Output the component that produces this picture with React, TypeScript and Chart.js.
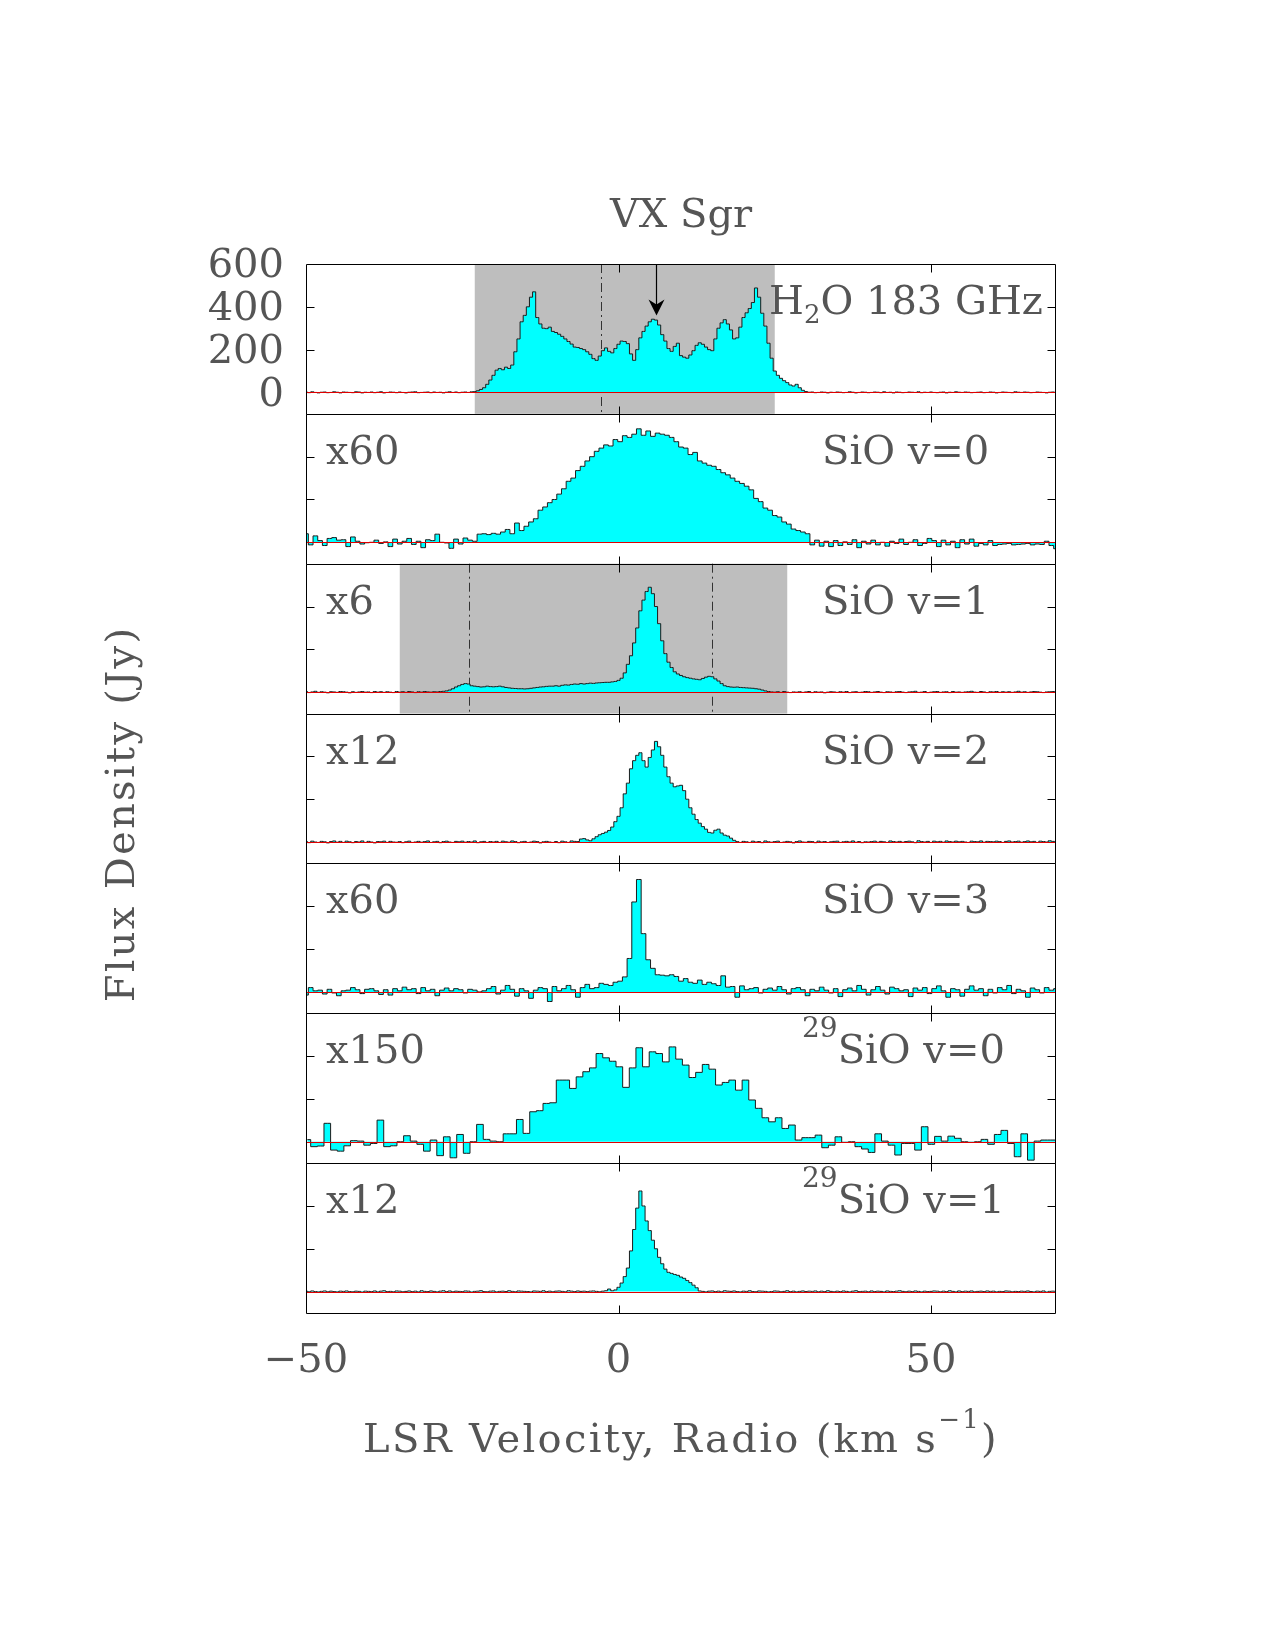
import React, { useEffect, useRef } from 'react';
import { Chart, registerables } from 'chart.js';

Chart.register(...registerables);

// ---------------- data ----------------
const xTickValues = [-50, 0, 50];
const yTickValues = [0, 200, 400, 600];
const yInnerTickValues = [200, 400];

const chartTitle = 'VX Sgr';
const yTitle = 'Flux Density (Jy)';
const xTitleMain = 'LSR Velocity, Radio (km s';
const xTitleSup = '\u22121';
const xTitleEnd = ')';

// H2O 183 GHz (Jy), channels of 0.5 km/s starting at -50
const h2oStart = -50;
const h2oStep = 0.5;
const h2oFlux = [
  2, -1, 3, 0, -2, 1, 2, -1, 0, 3,
  1, -2, 2, 1, 0, -1, 3, 2, -2, 1,
  0, 2, -1, 1, 3, -2, 0, 2, 1, -1,
  2, 0, -2, 1, 2, 3, -1, 0, 1, 2,
  -1, 2, 0, 1, -2, 1, 3, 0, 2, -1,
  1, 2, 0, 3, 4, 8, 14, 22, 38, 58,
  80, 104, 112, 106, 118, 112, 128, 190, 250, 330,
  360, 400, 445, 470, 350, 320, 300, 298, 305, 285,
  280, 272, 262, 250, 238, 226, 212, 210, 205, 200,
  190, 178, 158, 150, 170, 195, 208, 192, 185, 205,
  225, 240, 238, 228, 180, 150, 200, 255, 285, 310,
  330, 342, 338, 315, 270, 240, 205, 192, 215, 230,
  172, 165, 160, 175, 195, 220, 232, 225, 212, 200,
  195, 250, 300, 325, 340, 320, 292, 250, 255, 305,
  350, 372, 392, 420, 488, 445, 370, 310, 230, 160,
  100, 80, 66, 55, 46, 35, 30, 38, 22, 10,
  4, 1, 2, -1, 0, 2, 1, -2, 1, 0,
  2, 1, -1, 0, 3, 1, -2, 0, 2, 1,
  -1, 0, 2, 1, -1, 3, 0, 1, -2, 2,
  1, -1, 0, 2, 1, 0, 3, -1, 1, 0,
  2, 0, -1, 1, 2, -2, 1, 0, 3, 1,
  0, 2, 1, -1, 0, 1, 2, -1, 0, 2,
  1, -2, 0, 2, 1, 0, -1, 3, 1, 0,
  2, 1, -1, 0, 2, 1, 0, -2, 1, 2,
  0,
];

// SiO v=0 (x60), channels of 0.75 km/s starting at -50
const sio0Start = -50;
const sio0Step = 0.75;
const sio0Flux = [
  40, -12, 30, 8, -15, 18, 22, 10,
  12, -20, 25, 5, -8, -2, 0, 10,
  -5, 2, -20, 15, -8, 5, 18, -10,
  5, -25, 12, 8, 38, 0, -3, -28,
  15, -8, 20, 10, 5, 38, 40, 36,
  42, 38, 48, 60, 40, 90, 55, 75,
  95, 110, 150, 165, 185, 200, 225, 250,
  285, 300, 335, 355, 380, 400, 425, 440,
  455, 450, 480, 470, 498, 490, 505, 530,
  500, 520, 495, 510, 505, 500, 490, 470,
  445, 440, 410, 420, 380, 370, 360, 355,
  340, 325, 315, 300, 285, 275, 262, 245,
  205, 190, 160, 150, 125, 118, 95, 85,
  62, 55, 48, 40, -12, 10, -18, 5,
  -20, 8, -15, 2, -10, 12, -25, 5,
  -8, 10, -12, 0, -18, 5, -5, 15,
  -10, 0, 12, -15, -5, 18, 8, -20,
  10, -12, 5, -25, 12, -8, 15, -18,
  -5, -12, 8, -15, -10, -8, -5, -12,
  -10, -8, -5, -12, -8, -10, 5, -15,
  -30,
];

// SiO v=1 (x6), channels of 0.5 km/s starting at -50
const sio1Start = -50;
const sio1Step = 0.5;
const sio1Flux = [
  3, -2, 1, 4, -1, 2, 0, -3, 2, 1,
  -1, 3, 2, 0, -3, 2, -1, 1, 3, 0,
  1, -2, 3, 0, 2, -1, 2, 0, -2, 3,
  0, 2, -1, 3, 1, -2, 2, 0, 3, 1,
  0, 2, 1, 3, 4, 6, 10, 16, 24, 30,
  36, 40, 38, 30, 28, 26, 24, 25, 28, 26,
  25, 26, 28, 25, 22, 20, 18, 17, 16, 16,
  15, 16, 18, 20, 22, 24, 25, 27, 28, 28,
  30, 28, 32, 34, 33, 36, 38, 37, 40, 38,
  40, 42, 41, 43, 44, 45, 46, 46, 48, 50,
  55, 65, 90, 130, 170, 230, 300, 380, 430, 470,
  490, 460, 400, 320, 240, 180, 140, 115, 95, 85,
  78, 72, 68, 65, 62, 60, 58, 64, 70, 74,
  72, 62, 52, 40, 30, 26, 24, 23, 24, 22,
  21, 20, 19, 18, 16, 14, 10, 6, 3, 1,
  0, 2, -1, 3, 0, -2, 1, 0, 2, -1,
  1, 3, -2, 2, 0, 1, -3, 0, 2, 1,
  -1, 2, 0, 3, -2, 1, 2, -1, 0, 3,
  2, -1, 1, 3, 0, -2, 2, 1, -1, 2,
  3, 0, -2, 1, 2, 4, -1, 0, 3, -2,
  0, 2, 3, -1, 1, 2, -2, 3, 0, 1,
  -1, 1, 2, 4, 0, -1, 3, 1, -2, 2,
  1, 3, -1, 2, 0, 2, -1, 1, 4, 0,
  2, -1, 1, 3, 2, 0, -2, 1, 2, 3,
  1,
];

// SiO v=2 (x12), channels of 0.5 km/s starting at -50
const sio2Start = -50;
const sio2Step = 0.5;
const sio2Flux = [
  2, -3, 4, 0, -2, 3, 1, -4, 2, 5,
  -1, 3, -2, 4, 1, -3, 2, 0, 5, -2,
  3, 0, -4, 2, 1, 4, -2, 3, 0, -1,
  2, -3, 1, 4, -2, 0, 3, -1, 2, 5,
  -2, 1, 3, -3, 2, 4, 0, -2, 3, 1,
  4, -1, 2, 0, 5, -3, 1, 3, -2, 2,
  0, 3, -2, 4, 1, -1, 5, 2, -3, 1,
  3, -2, 0, 4, 2, -4, 1, 3, 0, -2,
  2, -3, 4, 1, -2, 5, 3, 2, 14, 16,
  10, 6, 15, 25, 34, 40, 46, 54, 70, 95,
  120, 160, 225, 275, 342, 380, 405, 417, 380, 350,
  395, 430, 470, 445, 405, 350, 305, 275, 258, 262,
  265, 240, 200, 160, 130, 105, 88, 72, 60, 45,
  42, 55, 60, 42, 32, 28, 18, 8, 2, -2,
  3, 1, -2, 4, 0, 2, -3, 5, 1, -1,
  2, 4, -2, 0, 3, 1, -4, 2, 5, 0,
  -1, 3, 2, -3, 4, 0, 2, -2, 1, 3,
  4, -2, 1, 3, 0, 5, -1, 2, -3, 1,
  0, 2, 4, -1, 3, 1, -2, 5, 2, 0,
  3, -1, 2, 4, 1, -3, 6, 2, 0, 3,
  -2, 4, 1, 3, -1, 5, 2, 0, 4, 1,
  3, 0, -2, 4, 2, 1, 5, -1, 3, 2,
  1, 4, 2, -2, 3, 5, 0, 2, 4, -1,
  2, 5, 1, 3, -2, 4, 2, 0, 6, 3,
  2,
];

// SiO v=3 (x60), channels of 0.75 km/s starting at -50
const sio3Start = -50;
const sio3Step = 0.75;
const sio3Flux = [
  -15, 20, 5, 8, -10, 12, -5, -18,
  5, 8, 20, 10, -8, 12, 15, 5,
  -12, 10, -15, 15, 5, 22, 10, 15,
  -8, 20, 5, 12, -18, 8, 18, 5,
  15, 10, -5, 12, 8, 0, 5, 15,
  25, -10, 8, 30, 12, -20, 15, 5,
  -30, 8, 20, 15, -45, 25, 5, 15,
  30, 10, -25, 20, 35, 15, 20, 40,
  35, 30, 45, 50, 70, 156, 420, 525,
  272, 150, 110, 80, 78, 75, 80, 72,
  50, 62, 45, 40, 55, 35, 45, 38,
  30, 75, 22, 25, -25, 28, 10, 15,
  20, -5, 12, 18, 8, 25, 10, -10,
  15, 20, 10, -18, 12, 5, 22, 8,
  -5, 15, -22, 10, 18, 5, 30, 12,
  -15, 10, 25, 8, -10, 22, 15, 5,
  10, -22, 18, 8, 20, -8, 15, 28,
  5, -25, 15, 10, -20, 12, 28, 8,
  15, -18, 12, -5, 20, 10, 30, -8,
  12, 5, -25, 18, 10, -5, 20, 8,
  15,
];

// 29SiO v=0 (x150), channels of 1.062 km/s starting at -49.78
const si29v0Start = -49.78;
const si29v0Step = 1.062;
const si29v0Flux = [
  10, -23, -20, 86, -39, -44, -19, 5, 3, -16,
  -8, 101, -23, -19, 0, 28, 3, -12, -44, 8,
  -65, 23, -75, 34, -54, 0, 81, 11, 3, 0,
  37, 37, 104, 39, 140, 145, 179, 182, 288, 288,
  249, 303, 327, 345, 412, 392, 376, 350, 254, 345,
  439, 350, 420, 412, 373, 443, 386, 358, 300, 324,
  361, 339, 265, 277, 288, 241, 288, 195, 156, 112,
  93, 112, 62, 78, 8, 19, 19, 31, -28, -16,
  23, -3, 0, -23, -34, -50, 37, 3, -16, -62,
  -8, -8, -39, 70, -12, 25, 3, 26, 16, 0,
  -3, 0, 11, -12, 34, 53, -8, -70, 37, -86,
  3, 8, 8, 8,
];

// 29SiO v=1 (x12), channels of 0.5 km/s starting at -50
const si29v1Start = -50;
const si29v1Step = 0.5;
const si29v1Flux = [
  2, -1, 3, 0, -2, 1, 3, -1, 2, 0,
  -2, 2, 1, 3, 0, -1, 2, 1, -3, 2,
  1, 0, 3, -2, 2, 4, 0, 1, -1, 3,
  2, -1, 1, 3, 0, 2, -2, 4, 1, 0,
  3, 1, -2, 2, 4, 0, 3, -1, 2, 1,
  0, 3, 2, -3, 1, 2, 4, 0, -1, 2,
  3, -2, 1, 2, 0, 4, 1, -1, 3, 2,
  1, 0, -2, 3, 2, 1, 4, 0, 2, -1,
  2, 3, 1, -1, 4, 2, 0, 3, 1, 2,
  0, 2, 3, 1, -1, 2, 4, 12, 4, 8,
  20, 40, 70, 110, 190, 290, 390, 470, 400, 330,
  285, 240, 200, 160, 130, 105, 90, 85, 80, 76,
  68, 62, 52, 42, 30, 18, 3, 1, -2, 2,
  3, 0, 2, -1, 4, 2, 1, 3, 0, -2,
  2, 1, 4, 0, -1, 3, 2, 1, -2, 0,
  3, 2, -1, 1, 4, 0, 2, -2, 1, 3,
  0, 2, 1, 3, -1, 2, 0, 4, 1, -1,
  2, 0, 3, 1, -2, 2, 4, 0, 1, 2,
  -1, 3, 0, 2, 1, -2, 3, 1, 0, 2,
  4, 1, -1, 2, 0, 3, 1, -2, 2, 0,
  1, 3, 2, -1, 2, 0, 4, 1, -2, 3,
  0, 2, 1, 3, -1, 1, 2, 0, 3, 1,
  2, -2, 1, 0, 3, 2, -1, 1, 0, 2,
  1, 3, 0, -2, 2, 1, 3, -3, 1, 2,
  1,
];

const panelScaleLabels = ['', 'x60', 'x6', 'x12', 'x60', 'x150', 'x12'];

type Part = { t: string; k: 'n' | 'sub' | 'sup' };
const panelLineLabels: Part[][] = [
  [{ t: 'H', k: 'n' }, { t: '2', k: 'sub' }, { t: 'O 183 GHz', k: 'n' }],
  [{ t: 'SiO v=0', k: 'n' }],
  [{ t: 'SiO v=1', k: 'n' }],
  [{ t: 'SiO v=2', k: 'n' }],
  [{ t: 'SiO v=3', k: 'n' }],
  [{ t: '29', k: 'sup' }, { t: 'SiO v=0', k: 'n' }],
  [{ t: '29', k: 'sup' }, { t: 'SiO v=1', k: 'n' }],
];

// shaded velocity windows, vertical dash-dot markers, arrow (panel index, km/s)
const shadedPanels = [0, 2];
const shadedFrom = [-23, -35];
const shadedTo = [25, 27];
const markerPanels = [0, 2, 2];
const markerVelocities = [-2.8, -24, 15];
const arrowVelocity = 6;
const arrowTipValue = 360;

// ---------------- styles / layout ----------------
const FONT_FAMILY = '"DejaVu Serif", "Liberation Serif", serif';
const TEXT_COLOR = '#555555';
const FILL_COLOR = '#00ffff';
const LINE_COLOR = '#1c1c1c';
const ZERO_COLOR = '#e00000';
const SHADE_COLOR = '#bebebe';
const X_MIN = -50;
const X_MAX = 70;
const Y_MIN = -100;
const Y_MAX = 600;
const LEFT_SPACE = 306;
const LINE_LABEL_OFFSET = [463, 516, 516, 516, 516, 496, 496];

const spectra = [
  { start: h2oStart, step: h2oStep, values: h2oFlux },
  { start: sio0Start, step: sio0Step, values: sio0Flux },
  { start: sio1Start, step: sio1Step, values: sio1Flux },
  { start: sio2Start, step: sio2Step, values: sio2Flux },
  { start: sio3Start, step: sio3Step, values: sio3Flux },
  { start: si29v0Start, step: si29v0Step, values: si29v0Flux },
  { start: si29v1Start, step: si29v1Step, values: si29v1Flux },
];
const N = spectra.length;

function partFont(k: string) {
  const size = k === 'n' ? 40 : k === 'sub' ? 26 : 28;
  return `${size}px ${FONT_FAMILY}`;
}
function partDy(k: string) {
  return k === 'sub' ? 9 : k === 'sup' ? -26 : 0;
}
function drawParts(ctx: CanvasRenderingContext2D, parts: Part[], x: number, y: number) {
  let cx = x;
  for (const p of parts) {
    ctx.font = partFont(p.k);
    ctx.fillText(p.t, cx, y + partDy(p.k));
    cx += ctx.measureText(p.t).width;
  }
}

const decorPlugin = {
  id: 'spectraDecor',
  beforeDatasetsDraw(chart: any) {
    const ctx: CanvasRenderingContext2D = chart.ctx;
    const xs = chart.scales.x;
    ctx.save();
    shadedPanels.forEach((p, i) => {
      const ys = chart.scales['y' + p];
      const x1 = xs.getPixelForValue(shadedFrom[i]);
      const x2 = xs.getPixelForValue(shadedTo[i]);
      ctx.fillStyle = SHADE_COLOR;
      ctx.fillRect(x1, ys.top, x2 - x1, ys.bottom - ys.top);
    });
    ctx.strokeStyle = '#333';
    ctx.lineWidth = 1;
    ctx.setLineDash([9, 4, 2, 4]);
    markerPanels.forEach((p, i) => {
      const ys = chart.scales['y' + p];
      const px = Math.round(xs.getPixelForValue(markerVelocities[i])) + 0.5;
      ctx.beginPath();
      ctx.moveTo(px, ys.top);
      ctx.lineTo(px, ys.bottom);
      ctx.stroke();
    });
    ctx.restore();
  },
  afterDatasetsDraw(chart: any) {
    const ctx: CanvasRenderingContext2D = chart.ctx;
    const a = chart.chartArea;
    const xs = chart.scales.x;
    ctx.save();
    // zero lines
    ctx.strokeStyle = ZERO_COLOR;
    ctx.lineWidth = 1;
    for (let i = 0; i < N; i++) {
      const ys = chart.scales['y' + i];
      const py = Math.round(ys.getPixelForValue(0)) + 0.5;
      ctx.beginPath();
      ctx.moveTo(a.left, py);
      ctx.lineTo(a.right, py);
      ctx.stroke();
    }
    // arrow
    {
      const ys = chart.scales.y0;
      const px = Math.round(xs.getPixelForValue(arrowVelocity)) + 0.5;
      const tip = ys.getPixelForValue(arrowTipValue);
      ctx.strokeStyle = '#000';
      ctx.lineWidth = 1.2;
      ctx.beginPath();
      ctx.moveTo(px, ys.top);
      ctx.lineTo(px, tip - 6);
      ctx.stroke();
      ctx.fillStyle = '#000';
      ctx.beginPath();
      ctx.moveTo(px, tip);
      ctx.lineTo(px - 8, tip - 16);
      ctx.lineTo(px, tip - 11);
      ctx.lineTo(px + 8, tip - 16);
      ctx.closePath();
      ctx.fill();
    }
    // frames and ticks
    ctx.strokeStyle = '#000';
    ctx.lineWidth = 1;
    const L = Math.round(a.left) + 0.5;
    const R = Math.round(a.right) - 0.5;
    for (let i = 0; i < N; i++) {
      const ys = chart.scales['y' + i];
      const T = Math.round(ys.top) + 0.5;
      const B = Math.round(ys.bottom) + 0.5;
      ctx.beginPath();
      ctx.rect(L, T, R - L, B - T);
      for (const v of xTickValues) {
        const px = Math.round(xs.getPixelForValue(v)) + 0.5;
        if (px <= L + 1 || px >= R - 1) continue;
        ctx.moveTo(px, T);
        ctx.lineTo(px, T + 8);
        ctx.moveTo(px, B);
        ctx.lineTo(px, B - 8);
      }
      for (const v of yInnerTickValues) {
        const py = Math.round(ys.getPixelForValue(v)) + 0.5;
        ctx.moveTo(L, py);
        ctx.lineTo(L + 8, py);
        ctx.moveTo(R, py);
        ctx.lineTo(R - 8, py);
      }
      ctx.stroke();
    }
    // panel labels
    ctx.fillStyle = TEXT_COLOR;
    ctx.textBaseline = 'alphabetic';
    ctx.textAlign = 'left';
    for (let i = 0; i < N; i++) {
      const ys = chart.scales['y' + i];
      const base = ys.top + 50;
      if (panelScaleLabels[i]) {
        ctx.font = partFont('n');
        ctx.fillText(panelScaleLabels[i], a.left + 20, base);
      }
      drawParts(ctx, panelLineLabels[i], a.left + LINE_LABEL_OFFSET[i], base);
    }
    // title
    const cx = (a.left + a.right) / 2;
    ctx.font = partFont('n');
    ctx.textAlign = 'center';
    ctx.fillText(chartTitle, cx, a.top - 37);
    // x title with superscript (wider letter spacing like the plotting font)
    const c2: any = ctx;
    c2.letterSpacing = '2.3px';
    ctx.textAlign = 'left';
    ctx.font = partFont('n');
    const w1 = ctx.measureText(xTitleMain).width;
    const w3 = ctx.measureText(xTitleEnd).width;
    ctx.font = `26px ${FONT_FAMILY}`;
    const w2 = ctx.measureText(xTitleSup).width;
    let x0 = cx - (w1 + w2 + w3) / 2;
    const xb = a.bottom + 139;
    ctx.font = partFont('n');
    ctx.fillText(xTitleMain, x0, xb);
    x0 += w1;
    ctx.font = `26px ${FONT_FAMILY}`;
    ctx.fillText(xTitleSup, x0, xb - 24);
    x0 += w2;
    ctx.font = partFont('n');
    ctx.fillText(xTitleEnd, x0, xb);
    // y title
    ctx.save();
    c2.letterSpacing = '2.3px';
    ctx.translate(134, 814);
    ctx.rotate(-Math.PI / 2);
    ctx.textAlign = 'center';
    ctx.font = partFont('n');
    ctx.fillText(yTitle, 0, 0);
    ctx.restore();
    c2.letterSpacing = '0px';
    ctx.restore();
  },
};

function fmtTick(v: number) {
  return v < 0 ? '\u2212' + Math.abs(v) : String(v);
}

function buildConfig(): any {
  const scales: any = {
    x: {
      type: 'linear',
      position: 'bottom',
      min: X_MIN,
      max: X_MAX,
      afterBuildTicks: (s: any) => {
        s.ticks = xTickValues.map((v) => ({ value: v }));
      },
      afterFit: (s: any) => {
        s.height = 337;
      },
      grid: { display: false, drawTicks: false },
      border: { display: false },
      ticks: {
        font: { family: FONT_FAMILY, size: 40 },
        color: TEXT_COLOR,
        padding: 25,
        maxRotation: 0,
        minRotation: 0,
        autoSkip: false,
        callback: (v: any) => fmtTick(Number(v)),
      },
    },
  };
  for (let i = 0; i < N; i++) {
    scales['y' + i] = {
      type: 'linear',
      position: 'left',
      stack: 'spectra',
      stackWeight: 1,
      weight: 10 - i,
      min: Y_MIN,
      max: Y_MAX,
      display: i === 0,
      afterBuildTicks: (s: any) => {
        s.ticks = yTickValues.map((v) => ({ value: v }));
      },
      afterFit: (s: any) => {
        s.width = LEFT_SPACE;
      },
      grid: { display: false, drawTicks: false },
      border: { display: false },
      ticks: {
        font: { family: FONT_FAMILY, size: 40 },
        color: TEXT_COLOR,
        padding: 22,
        labelOffset: 3,
        autoSkip: false,
        callback: (v: any) => fmtTick(Number(v)),
      },
    };
  }
  const datasets = spectra.map((s, i) => ({
    data: s.values.map((y, k) => ({ x: s.start + k * s.step, y })),
    xAxisID: 'x',
    yAxisID: 'y' + i,
    stepped: 'middle',
    fill: 'origin',
    backgroundColor: FILL_COLOR,
    borderColor: LINE_COLOR,
    borderWidth: 1,
    pointRadius: 0,
    pointHoverRadius: 0,
    tension: 0,
  }));
  return {
    type: 'line',
    data: { datasets },
    options: {
      animation: false,
      responsive: false,
      devicePixelRatio: 1,
      events: [],
      layout: { padding: { left: 0, right: 219, top: 264, bottom: 0 } },
      plugins: {
        legend: { display: false },
        tooltip: { enabled: false },
        title: { display: false },
      },
      scales,
    },
    plugins: [decorPlugin],
  };
}

export default function App() {
  const ref = useRef<HTMLCanvasElement>(null);
  useEffect(() => {
    const canvas = ref.current;
    if (!canvas) return;
    const chart = new Chart(canvas, buildConfig());
    return () => chart.destroy();
  }, []);
  return (
    <div style={{ position: 'absolute', left: 0, top: 0, width: 1275, height: 1650, background: '#ffffff' }}>
      <canvas ref={ref} width={1275} height={1650} style={{ display: 'block', width: 1275, height: 1650 }} />
    </div>
  );
}
